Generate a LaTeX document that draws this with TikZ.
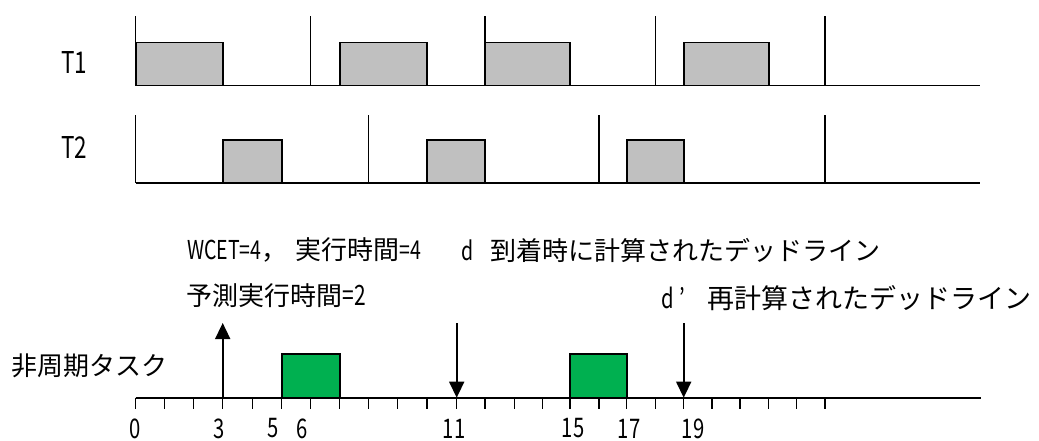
\documentclass[tikz,border=0pt]{standalone}
\usepackage{fontspec}
\setmainfont{Noto Sans CJK JP}
\newfontfamily\narrowfont{Noto Sans CJK JP}[FakeStretch=0.75]
\usetikzlibrary{arrows.meta}
\definecolor{taskgray}{HTML}{C0C0C0}
\definecolor{apergreen}{HTML}{00B050}
\begin{document}
\begin{tikzpicture}[x=1pt,y=-1pt,
  axisline/.style={line width=1.9pt},
  vline/.style={line width=1.3pt},
  taskbox/.style={draw=black,line width=1.7pt,fill=taskgray},
  aperbox/.style={draw=black,line width=1.7pt,fill=apergreen},
  evarrow/.style={line width=1.6pt,-{Triangle[width=15pt,length=16pt]}},
  lbl/.style={inner sep=0pt,font=\fontsize{26}{30}\selectfont},
  biglbl/.style={inner sep=0pt,font=\fontsize{27}{31}\selectfont},
  nlbl/.style={inner sep=0pt,font=\fontsize{27}{31}\narrowfont},
  tlbl/.style={inner sep=0pt,font=\fontsize{30}{34}\narrowfont},
]
\useasboundingbox (0,0) rectangle (1039,441);
% time positions
\foreach \i/\x in {0/135.7,1/164.7,2/193.7,3/222.7,4/252.3,5/281.7,6/310.7,7/339.7,8/368.7,9/397.7,10/427,11/456.7,12/485,13/514.5,14/542.7,15/570,16/599,17/626.7,18/655.7,19/683.7,20/712,21/740,22/768.7,23/796.7,24/825}
  {\coordinate (t\i) at (\x,0);}
\coordinate (xe) at (980,0);
% levels
\coordinate (T1b) at (0,85.5);
\coordinate (T1t) at (0,42.5);
\coordinate (T1p) at (0,15.7);
\coordinate (T2b) at (0,182.7);
\coordinate (T2t) at (0,140);
\coordinate (T2p) at (0,115);
\coordinate (Ab) at (0,397.7);
\coordinate (At) at (0,354.3);
\coordinate (Ak) at (0,409.3);
\coordinate (Aa) at (0,323);

% T1
\foreach \a/\b in {0/3,7/10,12/15,19/22}
  {\draw[taskbox] (t\a|-T1b) rectangle (t\b|-T1t);}
\foreach \i in {0,6,12,18,24}
  {\draw[vline] (t\i|-T1b) -- (t\i|-T1p);}
\draw[axisline] (t0|-T1b) -- (xe|-T1b);
\node[tlbl] (lT1) at (74,63) {T1};

% T2
\foreach \a/\b in {3/5,10/12,17/19}
  {\draw[taskbox] (t\a|-T2b) rectangle (t\b|-T2t);}
\foreach \i in {0,8,16,24}
  {\draw[vline] (t\i|-T2b) -- (t\i|-T2p);}
\draw[axisline] (t0|-T2b) -- (xe|-T2b);
\node[tlbl] (lT2) at (74,147.5) {T2};

% aperiodic task
\foreach \a/\b in {5/7,15/17}
  {\draw[aperbox] (t\a|-Ab) rectangle (t\b|-At);}
\foreach \i in {0,...,24}
  {\draw[vline] (t\i|-Ab) -- (t\i|-Ak);}
\draw[axisline] (t0|-Ab) -- (981,397.7);
\draw[evarrow] (t3|-Ab) -- (t3|-Aa);
\draw[evarrow] (t11|-Aa) -- (t11|-Ab);
\draw[evarrow] (t19|-Aa) -- (t19|-Ab);

\node[lbl,anchor=west] (lap) at (11.7,366) {非周期タスク};
\node[lbl,anchor=west] (lwcet) at (187,250) {{\narrowfont WCET=4}，\hspace{8pt}実行時間{\narrowfont =4}};
\node[lbl,anchor=west] (ld) at (461.7,250) {{\narrowfont d}\hspace{17pt}到着時に計算されたデッドライン};
\node[lbl,anchor=west] (lpred) at (186.7,296) {予測実行時間{\fontsize{28}{32}\narrowfont =2}};
\node[biglbl,anchor=west] (ldd) at (661.7,298) {{\narrowfont d\hspace{5pt}’}\hspace{22pt}再計算されたデッドライン};

% numbers
\foreach \n/\x in {0/135,3/219,5/273,6/302,11/454,15/573,17/629,19/693}
  {\node[nlbl] (n\n) at (\x,428.5) {\n};}
\end{tikzpicture}
\end{document}
